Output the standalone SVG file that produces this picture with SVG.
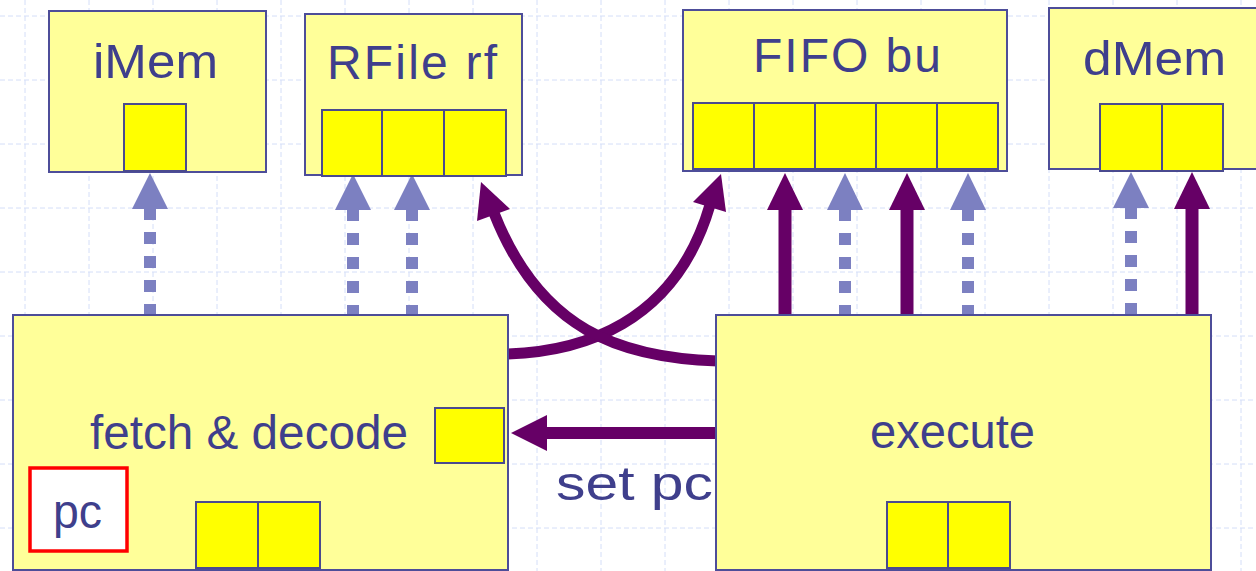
<svg xmlns="http://www.w3.org/2000/svg" width="1256" height="571" viewBox="0 0 1256 571">
<defs>
<style>
.grid line{stroke:#d4def8;stroke-width:1;stroke-dasharray:5 3;}
.box{fill:#ffff99;stroke:#4d4d99;stroke-width:2;}
.reg{fill:#ffff00;stroke:#4a4a8f;stroke-width:2;}
.lbl{font-family:"Liberation Sans",Arial,sans-serif;fill:#3f3f8c;font-size:48px;}
.dash{stroke:#7c80c1;stroke-width:12;stroke-dasharray:12 12;fill:none;}
.dhead{fill:#7c80c1;}
.solid{stroke:#660066;stroke-width:13;fill:none;}
.curve{stroke:#660066;stroke-width:11;fill:none;}
.shead{fill:#660066;}
</style>
</defs>
<rect width="1256" height="571" fill="#ffffff"/>
<g class="grid">
<line x1="25" y1="0" x2="25" y2="571"/><line x1="89" y1="0" x2="89" y2="571"/><line x1="153" y1="0" x2="153" y2="571"/><line x1="217" y1="0" x2="217" y2="571"/><line x1="281" y1="0" x2="281" y2="571"/><line x1="345" y1="0" x2="345" y2="571"/><line x1="409" y1="0" x2="409" y2="571"/><line x1="473" y1="0" x2="473" y2="571"/><line x1="537" y1="0" x2="537" y2="571"/><line x1="601" y1="0" x2="601" y2="571"/><line x1="665" y1="0" x2="665" y2="571"/><line x1="729" y1="0" x2="729" y2="571"/><line x1="793" y1="0" x2="793" y2="571"/><line x1="857" y1="0" x2="857" y2="571"/><line x1="921" y1="0" x2="921" y2="571"/><line x1="985" y1="0" x2="985" y2="571"/><line x1="1049" y1="0" x2="1049" y2="571"/><line x1="1113" y1="0" x2="1113" y2="571"/><line x1="1177" y1="0" x2="1177" y2="571"/><line x1="1241" y1="0" x2="1241" y2="571"/>
<line x1="0" y1="16" x2="1256" y2="16"/><line x1="0" y1="80" x2="1256" y2="80"/><line x1="0" y1="144" x2="1256" y2="144"/><line x1="0" y1="208" x2="1256" y2="208"/><line x1="0" y1="272" x2="1256" y2="272"/><line x1="0" y1="336" x2="1256" y2="336"/><line x1="0" y1="400" x2="1256" y2="400"/><line x1="0" y1="464" x2="1256" y2="464"/><line x1="0" y1="528" x2="1256" y2="528"/>
</g>
<g id="connectors">
<line class="dash" x1="150" y1="208" x2="150" y2="316"/><polygon class="dhead" points="150,173 132,209 168,209"/>
<line class="dash" x1="353" y1="209" x2="353" y2="316"/><polygon class="dhead" points="353,174 335,210 371,210"/>
<line class="dash" x1="412" y1="209" x2="412" y2="316"/><polygon class="dhead" points="412,174 394,210 430,210"/>
<line class="dash" x1="845" y1="209" x2="845" y2="316"/><polygon class="dhead" points="845,173 827,210 863,210"/>
<line class="dash" x1="968" y1="209" x2="968" y2="316"/><polygon class="dhead" points="968,173 950,210 986,210"/>
<line class="dash" x1="1131" y1="207" x2="1131" y2="316"/><polygon class="dhead" points="1131,172 1113,208 1149,208"/>
<line class="solid" x1="785" y1="205" x2="785" y2="316"/><polygon class="shead" points="785,173 767,210 803,210"/>
<line class="solid" x1="907" y1="205" x2="907" y2="316"/><polygon class="shead" points="907,173 889,210 925,210"/>
<line class="solid" x1="1192" y1="205" x2="1192" y2="316"/><polygon class="shead" points="1192,172 1174,209 1210,209"/>
<line x1="717" y1="433" x2="543" y2="433" stroke="#660066" stroke-width="12"/><polygon class="shead" points="511,433 547,415 547,451"/>
<path class="curve" d="M506,354 C580,352 675,325 710,205"/><polygon class="shead" points="721,174 693,202 726,212"/>
<path class="curve" d="M718,361 C620,358 540,330 494,213"/><polygon class="shead" points="481,182 477,221 510,209"/>
<text class="lbl" x="556" y="500" font-size="54" textLength="157" lengthAdjust="spacingAndGlyphs">set pc</text>
</g>
<g id="iMem">
<rect class="box" x="49" y="11" width="217" height="161"/>
<rect class="reg" x="124" y="104" width="62" height="67"/>
<text class="lbl" x="93" y="78" textLength="125" lengthAdjust="spacingAndGlyphs" font-size="49">iMem</text>
</g>
<g id="rfile">
<rect class="box" x="305" y="14" width="217" height="161"/>
<rect class="reg" x="322" y="110" width="60" height="66"/>
<rect class="reg" x="382" y="110" width="62" height="66"/>
<rect class="reg" x="444" y="110" width="62" height="66"/>
<text class="lbl" x="327" y="79" textLength="170" lengthAdjust="spacing">RFile rf</text>
</g>
<g id="fifo">
<rect class="box" x="683" y="10" width="324" height="161"/>
<rect class="reg" x="693" y="103" width="61" height="66"/>
<rect class="reg" x="754" y="103" width="61" height="66"/>
<rect class="reg" x="815" y="103" width="61" height="66"/>
<rect class="reg" x="876" y="103" width="61" height="66"/>
<rect class="reg" x="937" y="103" width="61" height="66"/>
<text class="lbl" x="753" y="72" textLength="188" lengthAdjust="spacing">FIFO bu</text>
</g>
<g id="dMem">
<rect class="box" x="1049" y="8" width="220" height="161"/>
<rect class="reg" x="1100" y="104" width="62" height="67"/>
<rect class="reg" x="1162" y="104" width="61" height="67"/>
<text class="lbl" x="1083" y="75" textLength="143" lengthAdjust="spacingAndGlyphs" font-size="50">dMem</text>
</g>
<g id="fetch">
<rect class="box" x="13" y="315" width="495" height="255"/>
<rect class="reg" x="435" y="408" width="69" height="55"/>
<rect x="30" y="468" width="97" height="83" fill="#ffffff" stroke="#ff0000" stroke-width="3.5"/>
<text class="lbl" x="53" y="528" textLength="49" lengthAdjust="spacingAndGlyphs">pc</text>
<rect class="reg" x="196" y="502" width="62" height="66"/>
<rect class="reg" x="258" y="502" width="62" height="66"/>
<text class="lbl" x="90" y="449" textLength="318" lengthAdjust="spacingAndGlyphs">fetch &amp; decode</text>
</g>
<g id="execute">
<rect class="box" x="716" y="315" width="495" height="255"/>
<rect class="reg" x="887" y="502" width="61" height="66"/>
<rect class="reg" x="948" y="502" width="62" height="66"/>
<text class="lbl" x="870" y="448" textLength="165" lengthAdjust="spacingAndGlyphs" font-size="47">execute</text>
</g>
</svg>
